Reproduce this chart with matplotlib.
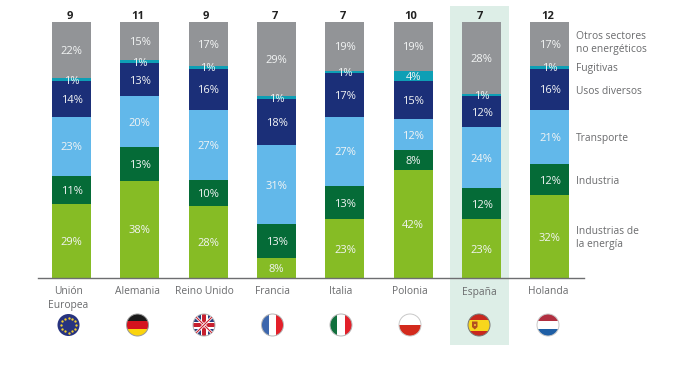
import numpy as np
import matplotlib
matplotlib.use("Agg")
import matplotlib.pyplot as plt
from matplotlib.patches import Circle, Rectangle, Polygon

plt.rcParams['font.family'] = ['Open Sans', 'DejaVu Sans']

countries = ["Unión\nEuropea", "Alemania", "Reino Unido", "Francia", "Italia", "Polonia", "España", "Holanda"]
totals = [9, 11, 9, 7, 7, 10, 7, 12]
energia = [29, 38, 28, 8, 23, 42, 23, 32]
industria = [11, 13, 10, 13, 13, 8, 12, 12]
transporte = [23, 20, 27, 31, 27, 12, 24, 21]
usos = [14, 13, 16, 18, 17, 15, 12, 16]
fugitivas = [1, 1, 1, 1, 1, 4, 1, 1]
otros = [22, 15, 17, 29, 19, 19, 28, 17]
series = [energia, industria, transporte, usos, fugitivas, otros]
colors = ["#86bc25", "#056b37", "#62b8ea", "#1b2f78", "#0e9fb5", "#929497"]
legend_labels = ["Industrias de\nla energía", "Industria", "Transporte", "Usos diversos", "Fugitivas", "Otros sectores\nno energéticos"]
legend_y = [238, 181, 139, 91, 69, 43]
TXT = "#6a6b6d"

W, H = 700, 365
fig = plt.figure(figsize=(W / 100, H / 100), dpi=100, facecolor="white")

bg = fig.add_axes([0, 0, 1, 1], zorder=0)
bg.set_xlim(0, W); bg.set_ylim(H, 0); bg.axis("off")
bg.add_patch(Rectangle((450, 6), 59, 339, fc="#ddeee7", ec="none"))

x0, x1 = 38, 584
base, top = 278, 22
step = 68.35
cx0 = 71.5
ax = fig.add_axes([x0 / W, 1 - base / H, (x1 - x0) / W, (base - top) / H], zorder=1)
ax.patch.set_alpha(0)
ax.set_xlim((x0 - cx0) / step, (x1 - cx0) / step)
ax.set_ylim(0, 100)
for s in ["top", "left", "right"]:
    ax.spines[s].set_visible(False)
ax.spines["bottom"].set_color("#6d6e70"); ax.spines["bottom"].set_linewidth(1)
ax.set_yticks([]); ax.set_xticks([])

xs = np.arange(len(countries))
vals = np.array(series, dtype=float)
sums = vals.sum(axis=0)
bottom = np.zeros(len(countries))
for v, c in zip(vals, colors):
    h = v / sums * 100
    ax.bar(xs, h, 39 / step, bottom=bottom, color=c, linewidth=0)
    for xi, b, hi, raw in zip(xs, bottom, h, v):
        ax.text(xi, b + hi / 2 - 0.6, f"{int(raw)}%", ha="center", va="center",
                color="#f2f4f4", fontsize=8, clip_on=False)
    bottom += h
for xi, t in zip(xs, totals):
    ax.text(xi - 0.03, 102.2, str(t), ha="center", va="center", fontsize=8,
            fontweight="bold", color="#222222")

for lab, y in zip(legend_labels, legend_y):
    bg.text(576, y, lab, ha="left", va="center", fontsize=7.4, color=TXT, linespacing=1.25)

flag_x = [68.5, 137.5, 204, 272.5, 341, 410, 479, 548]
for i, lab in enumerate(countries):
    bg.text(flag_x[i], 286.5, lab, ha="center", va="top", fontsize=7.4, color=TXT, linespacing=1.3)

FY, R = 325, 11

def clip(artist, x):
    artist.set_clip_path(Circle((x, FY), R, transform=bg.transData))

def hband(x, fracs, cols):
    y = FY - R
    for f, c in zip(fracs, cols):
        r = bg.add_patch(Rectangle((x - R, y), 2 * R, f * 2 * R, fc=c, ec="none")); clip(r, x)
        y += f * 2 * R

def vband(x, fracs, cols):
    xx = x - R
    for f, c in zip(fracs, cols):
        r = bg.add_patch(Rectangle((xx, FY - R), f * 2 * R, 2 * R, fc=c, ec="none")); clip(r, x)
        xx += f * 2 * R

def ring(x, col="#b5b5b5"):
    bg.add_patch(Circle((x, FY), R, fc="none", ec=col, lw=0.7))

# EU
x = flag_x[0]
bg.add_patch(Circle((x, FY), R, fc="#27337f", ec="none"))
for a in np.arange(12) * np.pi / 6:
    bg.plot(x + 7.5 * np.cos(a), FY + 7.5 * np.sin(a), "o", ms=1.7, color="#f3cf2b", mec="none")
# Germany
hband(flag_x[1], [1/3, 1/3, 1/3], ["#1a1a1a", "#d5121e", "#fbd40c"]); ring(flag_x[1], "#999999")
# UK
x = flag_x[2]
bg.add_patch(Circle((x, FY), R, fc="#2b3f7f", ec="none"))
for dx, dy in [(1, 1), (1, -1)]:
    l, = bg.plot([x - R * dx, x + R * dx], [FY - R * dy, FY + R * dy], color="white", lw=2.0); clip(l, x)
    l, = bg.plot([x - R * dx, x + R * dx], [FY - R * dy, FY + R * dy], color="#c8202f", lw=0.8); clip(l, x)
r = bg.add_patch(Rectangle((x - R, FY - 3.5), 2 * R, 7, fc="white", ec="none")); clip(r, x)
r = bg.add_patch(Rectangle((x - 3.5, FY - R), 7, 2 * R, fc="white", ec="none")); clip(r, x)
r = bg.add_patch(Rectangle((x - R, FY - 2), 2 * R, 4, fc="#c8202f", ec="none")); clip(r, x)
r = bg.add_patch(Rectangle((x - 2, FY - R), 4, 2 * R, fc="#c8202f", ec="none")); clip(r, x)
ring(flag_x[2])
# France
vband(flag_x[3], [1/3, 1/3, 1/3], ["#3d67ad", "white", "#e3202a"]); ring(flag_x[3])
# Italy
vband(flag_x[4], [1/3, 1/3, 1/3], ["#10703c", "white", "#e2202a"]); ring(flag_x[4])
# Poland
hband(flag_x[5], [0.5, 0.5], ["white", "#d32a1c"]); ring(flag_x[5], "#c8c8c8")
# Spain
x = flag_x[6]
hband(x, [0.25, 0.5, 0.25], ["#c8281e", "#f7d61c", "#c8281e"])
bg.add_patch(Polygon([(x - 7, FY - 3.5), (x - 1.5, FY - 3.5), (x - 1.5, FY + 2), (x - 4.2, FY + 4.5), (x - 7, FY + 2)],
                     fc="#b3501e", ec="none"))
bg.add_patch(Rectangle((x - 5.5, FY - 1.5), 2.5, 2.5, fc="#e8b030", ec="none"))
ring(x, "#777777")
# Netherlands
hband(flag_x[7], [1/3, 1/3, 1/3], ["#b12f40", "white", "#1f5fa5"]); ring(flag_x[7], "#c8c8c8")

fig.savefig("out.png", dpi=100, facecolor="white")
